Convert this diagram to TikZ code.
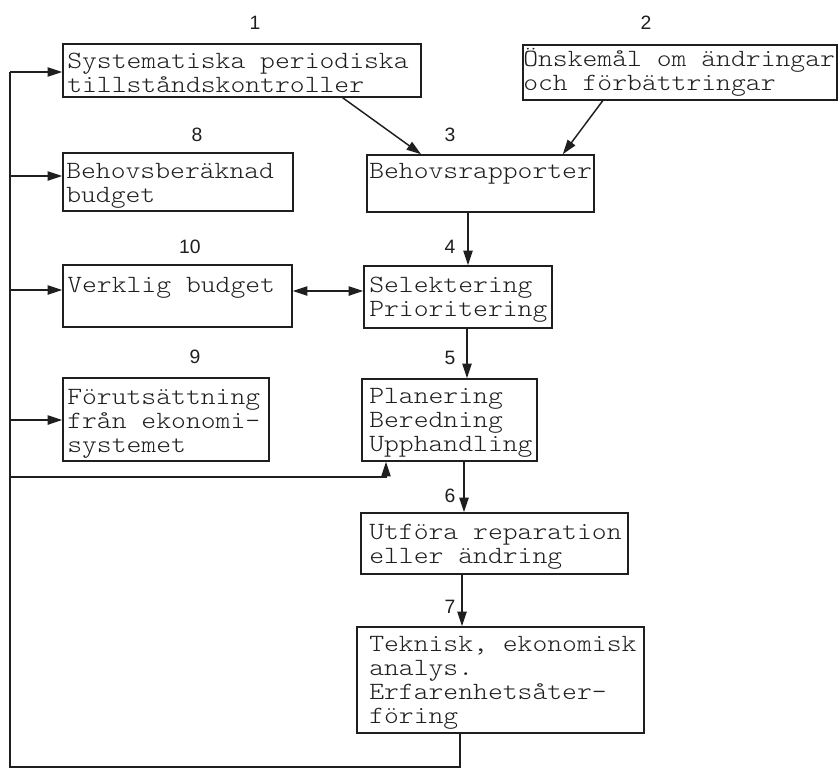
\documentclass[tikz,border=0pt]{standalone}
\usepackage{fontspec}
\newfontfamily\monof[FakeStretch=1.14]{Latin Modern Mono Light}
\newfontfamily\labf{Liberation Sans}
\usetikzlibrary{arrows.meta,calc,fit}
\definecolor{ink}{gray}{0.12}
\begin{document}
\begin{tikzpicture}[x=0.75pt,y=-0.75pt,
  box/.style={draw=ink, line width=1.1pt, inner sep=0pt, rectangle},
  txt/.style={anchor=north west, inner sep=0pt, align=left, text=ink,
    font=\monof\fontsize{18.6}{18}\selectfont},
  num/.style={font=\labf\fontsize{14.5}{16}\selectfont, text=ink, inner sep=0pt},
  arr/.style={draw=ink, line width=1.1pt, -{Triangle[length=11pt,width=7pt]}},
  darr/.style={draw=ink, line width=1.1pt, {Triangle[length=11pt,width=7pt]}-{Triangle[length=11pt,width=7pt]}},
  link/.style={draw=ink, line width=1.1pt}]
\useasboundingbox (0,0) rectangle (839,769);
\fill[white] (0,0) rectangle (839,769);

% boxes
\node[box, fit={(63,44) (421,97)}] (b1) {};
\node[box, fit={(523,45) (837,100)}] (b2) {};
\node[box, fit={(367,155) (594,212)}] (b3) {};
\node[box, fit={(63,153) (293,211)}] (b8) {};
\node[box, fit={(63,265) (292,327)}] (b10) {};
\node[box, fit={(364,266) (552,328)}] (b4) {};
\node[box, fit={(63,378) (269,461)}] (b9) {};
\node[box, fit={(362,379) (537,461)}] (b5) {};
\node[box, fit={(361,513) (628,574)}] (b6) {};
\node[box, fit={(357,627) (644,733)}] (b7) {};

% texts (first baseline = y + 22.67)
\node[txt] (t1) at (67,45.3) {\rule{0pt}{17pt}Systematiska periodiska\\tillståndskontroller};
\node[txt] (t2) at (523,43.3) {\rule{0pt}{17pt}Önskemål om ändringar\\och förbättringar};
\node[txt] (t3) at (369,155.3) {\rule{0pt}{17pt}Behovsrapporter};
\node[txt] (t8) at (66,155.3) {\rule{0pt}{17pt}Behovsberäknad\\budget};
\node[txt] (t10) at (67,269.3) {\rule{0pt}{17pt}Verklig budget};
\node[txt] (t4) at (369,269.3) {\rule{0pt}{17pt}Selektering\\Prioritering};
\node[txt] (t9) at (67,381.3) {\rule{0pt}{17pt}Förutsättning\\från ekonomi-\\systemet};
\node[txt] (t5) at (369,380.3) {\rule{0pt}{17pt}Planering\\Beredning\\Upphandling};
\node[txt] (t6) at (369,516.3) {\rule{0pt}{17pt}Utföra reparation\\eller ändring};
\node[txt] (t7) at (369,628.3) {\rule{0pt}{17pt}Teknisk, ekonomisk\\analys.\\Erfarenhetsåter-\\föring};

% numbers
\node[num] (n1) at (255,23) {1};
\node[num] (n2) at (646,23) {2};
\node[num] (n8) at (197,135) {8};
\node[num] (n3) at (450,135) {3};
\node[num] (n10) at (190,247) {10};
\node[num] (n4) at (450,247) {4};
\node[num] (n9) at (195,357) {9};
\node[num] (n5) at (450,358) {5};
\node[num] (n6) at (450,496) {6};
\node[num] (n7) at (450,607) {7};

% helper coordinates
\coordinate (v34) at (468,0);
\coordinate (v45) at (467,0);
\coordinate (v56) at (464,0);
\coordinate (v67) at (462,0);
\coordinate (v7b) at (460,0);
\coordinate (vfb) at (386,0);
\coordinate (h104) at (0,291);
\coordinate (bl) at (10,767);
\coordinate (a1) at (10,72);
\coordinate (a8) at (10,176);
\coordinate (a10) at (10,290);
\coordinate (a9) at (10,420);
\coordinate (a5) at (10,477);

% connectors
\draw[arr] ($(b1.south west)!0.78!(b1.south east)$) -- ($(b3.north west)!0.24!(b3.north east)$);
\draw[arr] ($(b2.south west)!0.255!(b2.south east)$) -- ($(b3.north west)!0.86!(b3.north east)$);
\draw[arr] (b3.south -| v34) -- (b4.north -| v34);
\draw[arr] (b4.south -| v45) -- (b5.north -| v45);
\draw[arr] (b5.south -| v56) -- (b6.north -| v56);
\draw[arr] (b6.south -| v67) -- (b7.north -| v67);
\draw[darr] (b10.east |- h104) -- (b4.west |- h104);
\draw[link] (b7.south -| v7b) |- (bl) -- (a1);
\draw[arr] (a1) -- (a1 -| b1.west);
\draw[arr] (a8) -- (a8 -| b8.west);
\draw[arr] (a10) -- (a10 -| b10.west);
\draw[arr] (a9) -- (a9 -| b9.west);
\draw[arr] (a5) -| (b5.south -| vfb);
\end{tikzpicture}
\end{document}
